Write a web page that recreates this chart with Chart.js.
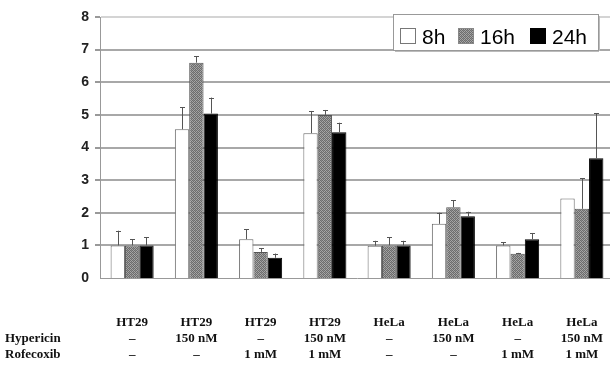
<!DOCTYPE html>
<html>
<head>
<meta charset="utf-8">
<script src="https://cdn.jsdelivr.net/npm/chart.js@4.4.1/dist/chart.umd.min.js"></script>
<style>
  html, body { margin: 0; padding: 0; overflow: hidden; background: #fff; }
  #wrap { width: 614px; height: 365px; }
</style>
</head>
<body>
<div id="wrap"><canvas id="c" width="614" height="365"></canvas></div>
<script>
// ---- data ----
const categories = ['HT29', 'HT29', 'HT29', 'HT29', 'HeLa', 'HeLa', 'HeLa', 'HeLa'];
const hypericin  = ['–', '150 nM', '–', '150 nM', '–', '150 nM', '–', '150 nM'];
const rofecoxib  = ['–', '–', '1 mM', '1 mM', '–', '–', '1 mM', '1 mM'];
const rowLabels  = ['Hypericin', 'Rofecoxib'];
const seriesNames = ['8h', '16h', '24h'];
const values8h  = [1.00, 4.56, 1.19, 4.44, 0.99, 1.66, 1.00, 2.44];
const values16h = [1.00, 6.60, 0.80, 5.00, 1.00, 2.17, 0.74, 2.12];
const values24h = [1.00, 5.04, 0.62, 4.47, 1.00, 1.89, 1.19, 3.67];
const err8h  = [0.45, 0.68, 0.30, 0.68, 0.15, 0.34, 0.10, 0.00];
const err16h = [0.19, 0.19, 0.12, 0.15, 0.25, 0.22, 0.03, 0.94];
const err24h = [0.25, 0.49, 0.13, 0.29, 0.14, 0.14, 0.19, 1.38];
const yTicks = [0, 1, 2, 3, 4, 5, 6, 7, 8];

// ---- patterns ----
function makeDither() {
  const pc = document.createElement('canvas');
  pc.width = 4; pc.height = 4;
  const g = pc.getContext('2d');
  g.fillStyle = '#a6a6a6'; g.fillRect(0, 0, 4, 4);
  g.fillStyle = '#6c6c6c';
  [[0,0],[2,0],[1,1],[3,1],[0,2],[2,2],[1,3],[3,3]].forEach(p => g.fillRect(p[0], p[1], 1, 1));
  g.fillStyle = '#8a8a8a';
  g.fillRect(1, 0, 1, 1); g.fillRect(3, 2, 1, 1);
  return document.getElementById('c').getContext('2d').createPattern(pc, 'repeat');
}
const dither = makeDither();
const fills = ['#ffffff', dither, '#000000'];
const borders = ['#666666', '#555555', '#000000'];
const errs = [err8h, err16h, err24h];

const labels = categories.map((c, i) => [c, hypericin[i], rofecoxib[i]]);

const errorBars = {
  id: 'errorBars',
  afterDatasetsDraw(chart) {
    const ctx = chart.ctx;
    const ys = chart.scales.y;
    ctx.save();
    ctx.strokeStyle = '#555';
    ctx.lineWidth = 1;
    chart.data.datasets.forEach((ds, di) => {
      const meta = chart.getDatasetMeta(di);
      meta.data.forEach((bar, i) => {
        const e = errs[di][i];
        if (!e) return;
        const top = ys.getPixelForValue(ds.data[i] + e);
        const x = Math.round(bar.x) + 0.5;
        ctx.beginPath();
        ctx.moveTo(x, bar.y);
        ctx.lineTo(x, top);
        ctx.moveTo(x - 2.5, Math.round(top) + 0.5);
        ctx.lineTo(x + 2.5, Math.round(top) + 0.5);
        ctx.stroke();
      });
    });
    ctx.restore();
  }
};

const extras = {
  id: 'extras',
  afterDraw(chart) {
    const ctx = chart.ctx;
    ctx.save();
    // row labels
    ctx.font = 'bold 13px "Liberation Serif", serif';
    ctx.fillStyle = '#111';
    ctx.textAlign = 'left';
    ctx.textBaseline = 'middle';
    ctx.fillText(rowLabels[0], 5, 339);
    ctx.fillText(rowLabels[1], 5, 355);
    // legend box
    ctx.fillStyle = '#fff';
    ctx.fillRect(393, 14, 205, 36);
    ctx.strokeStyle = '#999';
    ctx.lineWidth = 1;
    ctx.strokeRect(393.5, 14.5, 205, 36);
    ctx.strokeStyle = '#bbb';
    ctx.beginPath();
    ctx.moveTo(395, 51.5); ctx.lineTo(599, 51.5);
    ctx.moveTo(599.5, 16); ctx.lineTo(599.5, 51);
    ctx.stroke();
    const items = [
      { box: 400, text: 422 },
      { box: 458, text: 480 },
      { box: 530, text: 552 }
    ];
    ctx.font = '21px "Liberation Sans", Arial, sans-serif';
    ctx.textBaseline = 'alphabetic';
    items.forEach((it, i) => {
      ctx.fillStyle = fills[i];
      ctx.fillRect(it.box, 28, 15, 15);
      ctx.strokeStyle = i === 0 ? '#777' : (i === 1 ? '#888' : '#000');
      ctx.strokeRect(it.box + 0.5, 28.5, 15, 15);
      ctx.fillStyle = '#000';
      ctx.fillText(seriesNames[i], it.text, 43.5);
    });
    ctx.restore();
  }
};

new Chart(document.getElementById('c'), {
  type: 'bar',
  data: {
    labels: labels,
    datasets: [values8h, values16h, values24h].map((v, i) => ({
      label: seriesNames[i],
      data: v,
      backgroundColor: fills[i],
      borderColor: borders[i],
      borderWidth: 1,
      categoryPercentage: 0.67,
      barPercentage: 1.0
    }))
  },
  options: {
    responsive: false,
    animation: false,
    layout: { padding: { left: 0, right: 0, top: 17, bottom: 0 } },
    plugins: { legend: { display: false }, tooltip: { enabled: false } },
    scales: {
      x: {
        grid: { display: false, drawTicks: false },
        border: { display: true, color: '#999', width: 1 },
        ticks: {
          padding: 37,
          maxRotation: 0,
          autoSkip: false,
          color: '#111',
          font: { family: '"Liberation Serif", serif', size: 13, weight: 'bold', lineHeight: 1.23 }
        },
        afterFit(s) { s.height = 87; s.paddingLeft = 0; s.paddingRight = 0; }
      },
      y: {
        min: 0, max: 8,
        afterBuildTicks(s) { s.ticks = yTicks.map(v => ({ value: v })); },
        grid: {
          color: ctx => (ctx.tick && ctx.tick.value === 8) ? '#d4d4d4' : '#a8a8a8',
          lineWidth: ctx => (ctx.tick && ctx.tick.value === 0) ? 0 : 2,
          tickLength: 5,
          tickColor: '#999',
          drawTicks: true
        },
        border: { display: true, color: '#999', width: 1 },
        ticks: {
          padding: 6,
          color: '#222',
          font: { family: '"Liberation Sans", Arial, sans-serif', size: 14, weight: 'bold' }
        },
        afterFit(s) { s.width = 100; }
      }
    }
  },
  plugins: [errorBars, extras]
});
</script>
</body>
</html>
